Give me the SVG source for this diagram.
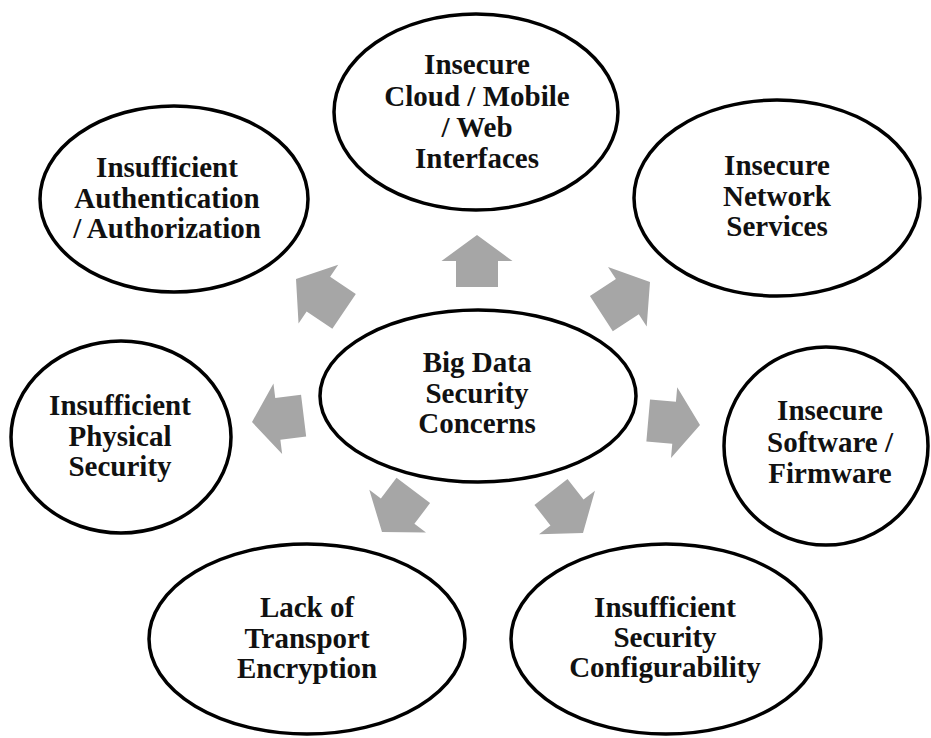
<svg xmlns="http://www.w3.org/2000/svg" xmlns:xlink="http://www.w3.org/1999/xlink" width="931" height="738" viewBox="0 0 931 738">
<style>
.node ellipse{fill:#fff;stroke:#000;stroke-width:3.5}
.node text{font-family:"Liberation Serif","Times New Roman",serif;font-weight:bold;font-size:29px;fill:#111;text-anchor:middle}
.arrow{fill:#a6a6a6}
</style>
<defs>
<path id="arr52" d="M-52,-21 L-26,-21 L-26,-35.5 L0,0 L-26,35.5 L-26,21 L-52,21 Z"/>
<path id="arr58" d="M-58,-21 L-27,-21 L-27,-35.5 L0,0 L-27,35.5 L-27,21 L-58,21 Z"/>
</defs>
<rect width="931" height="738" fill="#fff"/>
<g id="connectors">
<use xlink:href="#arr52" href="#arr52" class="arrow" transform="translate(477,235) rotate(-90)"/>
<use xlink:href="#arr58" href="#arr58" class="arrow" transform="translate(650,282) rotate(-33)"/>
<use xlink:href="#arr58" href="#arr58" class="arrow" transform="translate(296,279) rotate(-146)"/>
<use xlink:href="#arr52" href="#arr52" class="arrow" transform="translate(252,422) rotate(173)"/>
<use xlink:href="#arr52" href="#arr52" class="arrow" transform="translate(700,425) rotate(5)"/>
<use xlink:href="#arr52" href="#arr52" class="arrow" transform="translate(382,532) rotate(127)"/>
<use xlink:href="#arr52" href="#arr52" class="arrow" transform="translate(583,533) rotate(52)"/>
</g>
<g id="node-cloud" class="node">
<ellipse cx="476" cy="112" rx="142" ry="98"/>
<text x="477" y="74">Insecure</text>
<text x="477" y="106">Cloud / Mobile</text>
<text x="477" y="137">/ Web</text>
<text x="477" y="168">Interfaces</text>
</g>
<g id="node-auth" class="node">
<ellipse cx="174" cy="199" rx="134" ry="93"/>
<text x="167" y="177">Insufficient</text>
<text x="167" y="208">Authentication</text>
<text x="167" y="238">/ Authorization</text>
</g>
<g id="node-network" class="node">
<ellipse cx="777" cy="198" rx="143" ry="98"/>
<text x="777" y="175">Insecure</text>
<text x="777" y="206">Network</text>
<text x="777" y="236">Services</text>
</g>
<g id="node-center" class="node">
<ellipse cx="478" cy="396" rx="158" ry="86"/>
<text x="477" y="372">Big Data</text>
<text x="477" y="403">Security</text>
<text x="477" y="433">Concerns</text>
</g>
<g id="node-physical" class="node">
<ellipse cx="121" cy="437" rx="110" ry="96"/>
<text x="120" y="415">Insufficient</text>
<text x="120" y="446">Physical</text>
<text x="120" y="476">Security</text>
</g>
<g id="node-software" class="node">
<ellipse cx="826" cy="446" rx="102" ry="99"/>
<text x="830" y="420">Insecure</text>
<text x="830" y="452">Software /</text>
<text x="830" y="483">Firmware</text>
</g>
<g id="node-transport" class="node">
<ellipse cx="307" cy="639" rx="158" ry="95"/>
<text x="307" y="617">Lack of</text>
<text x="307" y="648">Transport</text>
<text x="307" y="678">Encryption</text>
</g>
<g id="node-config" class="node">
<ellipse cx="666" cy="639" rx="155" ry="95"/>
<text x="665" y="617">Insufficient</text>
<text x="665" y="647">Security</text>
<text x="665" y="677">Configurability</text>
</g>
</svg>
